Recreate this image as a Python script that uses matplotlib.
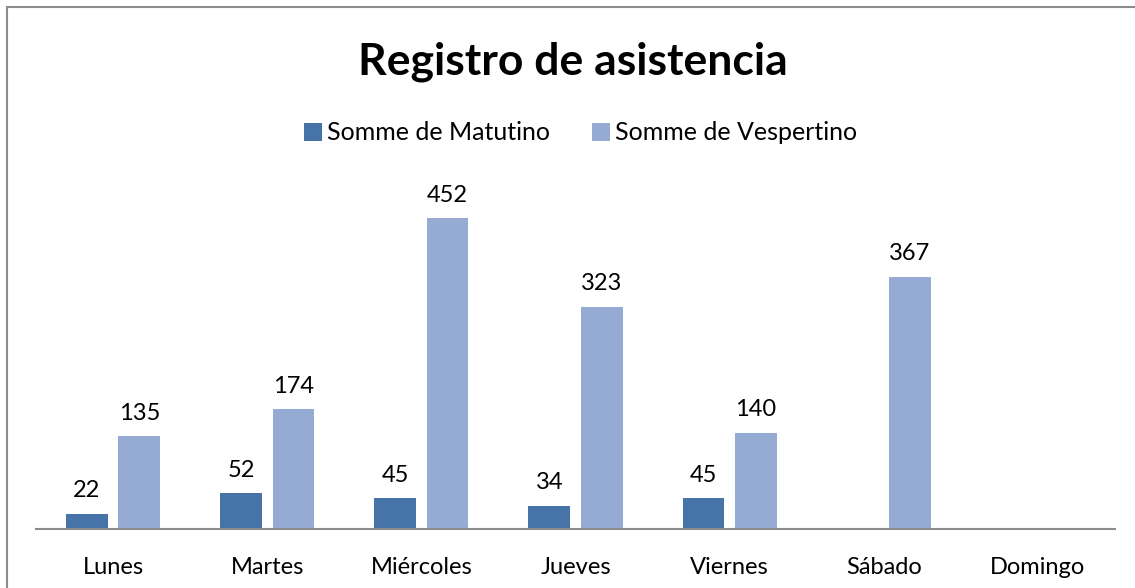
import matplotlib.pyplot as plt
import numpy as np
from matplotlib.patches import Rectangle

dias = ['Lunes', 'Martes', 'Miércoles', 'Jueves', 'Viernes', 'Sábado', 'Domingo']
matutino = [22, 52, 45, 34, 45, None, None]
vespertino = [135, 174, 452, 323, 140, 367, None]

COL_MAT = '#4673A8'
COL_VES = '#95ABD3'

plt.rcParams['font.family'] = ['Lato', 'DejaVu Sans']

W, H = 1135, 588
fig = plt.figure(figsize=(W / 100, H / 100), dpi=100)

# marco gris del área del gráfico
fig.patches.append(Rectangle((7 / W, -0.1), 1.2, 1.1 - 7 / H, transform=fig.transFigure,
                             fill=False, edgecolor='#8c8c8c', linewidth=1.5))

ax = fig.add_axes([36 / W, 1 - 529 / H, (1115 - 36) / W, (529 - 160) / H])

x = np.arange(len(dias))
bw = 0.27
gap = 0.07
m_vals = [v if v is not None else 0 for v in matutino]
v_vals = [v if v is not None else 0 for v in vespertino]
b1 = ax.bar(x - (bw + gap) / 2, m_vals, bw, color=COL_MAT, label='Somme de Matutino')
b2 = ax.bar(x + (bw + gap) / 2, v_vals, bw, color=COL_VES, label='Somme de Vespertino')

for bars, vals in ((b1, matutino), (b2, vespertino)):
    for rect, v in zip(bars, vals):
        if v is None:
            rect.set_visible(False)
            continue
        ax.annotate(str(v), (rect.get_x() + rect.get_width() / 2, v),
                    xytext=(0, 9), textcoords='offset points',
                    ha='center', va='bottom', fontsize=17)

ax.set_xlim(-0.5, len(dias) - 0.5)
ax.set_ylim(0, (529 - 160) / 0.688)
ax.set_xticks(x)
ax.set_xticklabels(dias, fontsize=17)
ax.tick_params(axis='x', length=0, pad=20)
ax.set_yticks([])
for s in ('top', 'right', 'left'):
    ax.spines[s].set_visible(False)
ax.spines['bottom'].set_color('#8c8c8c')
ax.spines['bottom'].set_linewidth(1.5)

fig.text(0.5 + 5 / W, 1 - 62 / H, 'Registro de asistencia', ha='center', va='center',
         fontsize=32, fontweight='bold')
fig.legend(handles=[b1, b2], loc='center', bbox_to_anchor=(0.5 + 13 / W, 1 - 133 / H),
           ncol=2, frameon=False, fontsize=18, handlelength=0.7, handleheight=0.7,
           handletextpad=0.2, columnspacing=1.7)

fig.savefig('out.png', dpi=100)
